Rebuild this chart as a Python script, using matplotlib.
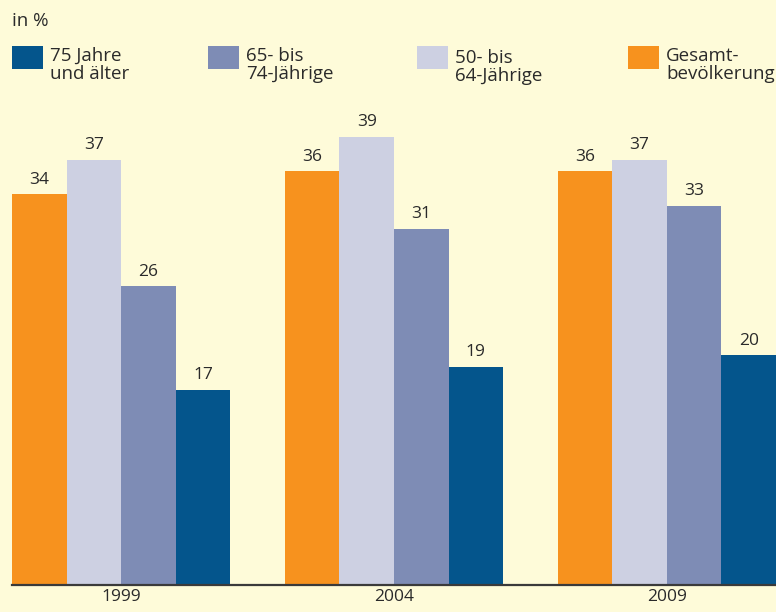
import matplotlib
matplotlib.use("Agg")
import matplotlib.pyplot as plt
from matplotlib.patches import Rectangle

years = ["1999", "2004", "2009"]
series_names = ["Gesamt-\nbevölkerung", "50- bis\n64-Jährige", "65- bis\n74-Jährige", "75 Jahre\nund älter"]
gesamt = [34, 36, 36]
j50_64 = [37, 39, 37]
j65_74 = [26, 31, 33]
j75 = [17, 19, 20]
colors = ["#F7921E", "#CDD0E2", "#7E8CB5", "#04558C"]
bg = "#FEFBD9"

series = [gesamt, j50_64, j65_74, j75]

plt.rcParams['font.family'] = ['Open Sans', 'DejaVu Sans']

W, H = 776, 612
fig = plt.figure(figsize=(W / 100, H / 100), dpi=100, facecolor=bg)
ax = fig.add_axes([12 / W, (H - 585) / H, (W - 12) / W, (585 - 100) / H])
ax.set_facecolor(bg)

for si, vals in enumerate(series):
    xs = [g * 5 + si for g in range(len(years))]
    ax.bar(xs, vals, width=1.0, color=colors[si], linewidth=0)
    for x, v in zip(xs, vals):
        ax.text(x, v + 0.55, str(v), ha="center", va="bottom", fontsize=12.5, color="#2a2a2a")

ax.set_xlim(-0.5, 13.5)
ax.set_ylim(0, 485 / 11.5)
for s in ["top", "right", "left"]:
    ax.spines[s].set_visible(False)
ax.spines["bottom"].set_color("#3a3a3a")
ax.spines["bottom"].set_linewidth(1.6)
ax.set_yticks([])
ax.set_xticks([g * 5 + 1.5 for g in range(len(years))])
ax.set_xticklabels(years, fontsize=12.5, color="#2a2a2a")
ax.tick_params(axis="x", length=0, pad=3)

# header & legend
fig.text(12 / W, 1 - 21 / H, "in %", ha="left", va="center", fontsize=13.5, color="#2a2a2a")
legend_order = [3, 2, 1, 0]
leg_x = [12, 208, 417, 628]
leg_y = [47, 47, 49, 47]
for lx, ly, si in zip(leg_x, leg_y, legend_order):
    fig.patches.append(Rectangle((lx / W, 1 - 69 / H), 31 / W, 23 / H,
                                 transform=fig.transFigure, color=colors[si], linewidth=0))
    fig.text((lx + 38) / W, 1 - ly / H, series_names[si], ha="left", va="top",
             fontsize=13.5, color="#2a2a2a", linespacing=1.02)

fig.savefig("out.png", dpi=100, facecolor=bg)
